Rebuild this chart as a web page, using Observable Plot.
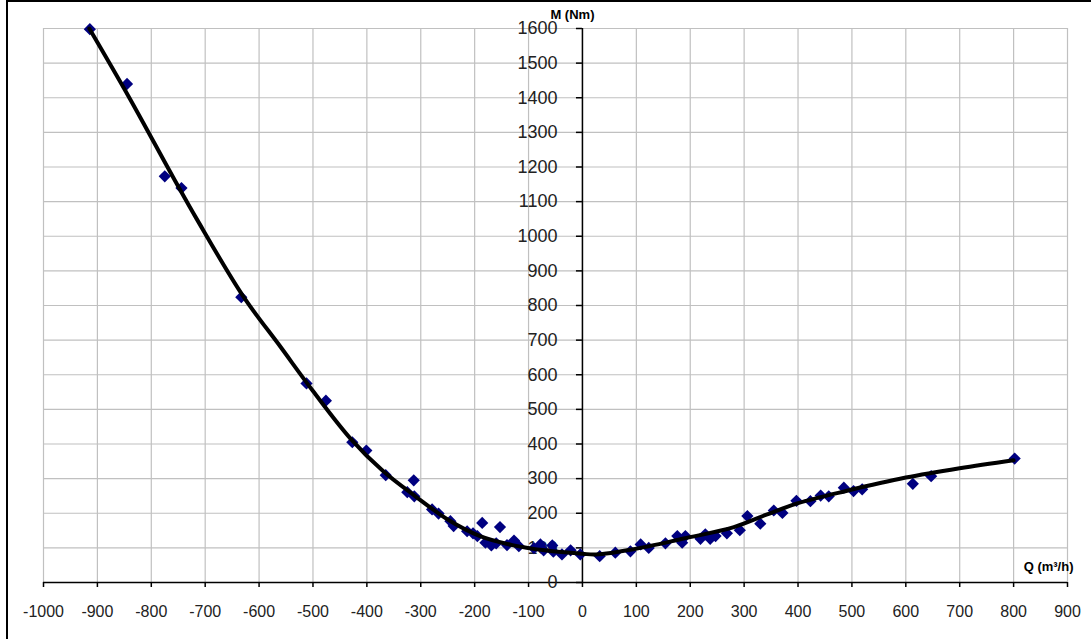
<!DOCTYPE html>
<html>
<head>
<meta charset="utf-8">
<script src="https://cdn.jsdelivr.net/npm/d3@7"></script>
<script src="https://cdn.jsdelivr.net/npm/@observablehq/plot@0.6"></script>
<style>
  html, body { margin: 0; padding: 0; background: #fff; overflow: hidden; }
  #wrap { position: relative; width: 1091px; height: 639px; overflow: hidden; background: #fff; }
  #border { position: absolute; left: 6px; top: 0px; width: 1200px; height: 800px; border: 2px solid #000; box-sizing: border-box; pointer-events: none; }
</style>
</head>
<body>
<div id="wrap"><div id="border"></div></div>
<script>
// Measured points: flow Q (m³/h) and torque M (Nm)
const pointQ = [-914,-845,-775,-744,-633,-512,-476,-427,-401,-365,-325,-313,-312,-279,-267,-245,-239,-214,-203,-195,-186,-180,-169,-160,-153,-140,-127,-118,-90,-78,-72,-56,-54,-38,-22,-4,32,61,89,108,123,154,176,185,191,219,228,237,247,268,292,306,330,355,371,397,423,442,457,485,503,519,613,647,802];
const pointM = [1598,1440,1173,1139,824,575,525,405,381,310,261,295,249,211,199,177,163,148,142,134,172,115,107,113,160,108,121,105,99,110,93,107,89,81,93,81,76,86,90,110,100,113,134,115,134,126,139,126,134,142,151,192,170,208,201,236,235,251,249,274,264,269,285,307,358];

// Trend line
const trendQ = [-915,-840,-760,-715,-630,-560,-500,-430,-370,-310,-250,-190,-130,-70,0,25,95,188,281,340,400,491,600,700,800];
const trendM = [1600,1398,1172,1048,828,680,553,415,322,249,182,134,108,93,83,81,96,127,160,195,229,265,303,330,353];

// Axis ticks
const xTicks = [-1000,-900,-800,-700,-600,-500,-400,-300,-200,-100,0,100,200,300,400,500,600,700,800,900];
const yTicks = [0,100,200,300,400,500,600,700,800,900,1000,1100,1200,1300,1400,1500,1600];
const yTitle = "M (Nm)";
const xTitle = "Q (m³/h)";

const points = pointQ.map((q, i) => ({q, m: pointM[i]}));
const trend = trendQ.map((q, i) => ({q, m: trendM[i]}));

const W = 1091, H = 639;
const mL = 43, mR = 24, mT = 28, mB = 57;
const xDomain = [-1000, 900];
const x0px = mL + (W - mL - mR) * (0 - xDomain[0]) / (xDomain[1] - xDomain[0]);

const chart = Plot.plot({
  width: W,
  height: H,
  marginLeft: mL,
  marginRight: mR,
  marginTop: mT,
  marginBottom: mB,
  style: {background: "#fff", fontFamily: "'Liberation Sans', Arial, sans-serif", color: "#000"},
  x: {domain: xDomain},
  y: {domain: [0, 1600]},
  marks: [
    Plot.gridX(xTicks, {stroke: "#c0c0c0", strokeOpacity: 1, strokeWidth: 1.2}),
    Plot.gridY(yTicks, {stroke: "#c0c0c0", strokeOpacity: 1, strokeWidth: 1.2}),
    Plot.ruleY([0], {stroke: "#000", strokeWidth: 1.5}),
    Plot.ruleX([0], {stroke: "#000", strokeWidth: 1.5}),
    Plot.axisX(xTicks, {
      anchor: "bottom", tickSize: 5, tickPadding: 18, fontSize: 16,
      stroke: "#000", fill: "#222", strokeWidth: 1.5,
      tickFormat: d => String(d), label: null
    }),
    Plot.axisY(yTicks, {
      anchor: "left", dx: x0px - mL, tickSize: 6, tickPadding: 19, fontSize: 18,
      stroke: "#000", fill: "#222", strokeWidth: 1.5,
      tickFormat: d => String(d), label: null
    }),
    Plot.dot(points, {x: "q", y: "m", symbol: "diamond2", r: 5.5, fill: "#000080", stroke: "none"}),
    Plot.line(trend, {x: "q", y: "m", curve: "catmull-rom", stroke: "#000", strokeWidth: 4}),
    Plot.text([yTitle], {x: 0, y: 1600, text: d => d, dx: -10, dy: -14, textAnchor: "middle", fontWeight: "bold", fontSize: 13, fill: "#000"}),
    Plot.text([xTitle], {x: 900, y: 0, text: d => d, dx: 6, dy: -16, textAnchor: "end", fontWeight: "bold", fontSize: 13, fill: "#000"})
  ]
});
document.getElementById("wrap").insertBefore(chart, document.getElementById("border"));
</script>
</body>
</html>
